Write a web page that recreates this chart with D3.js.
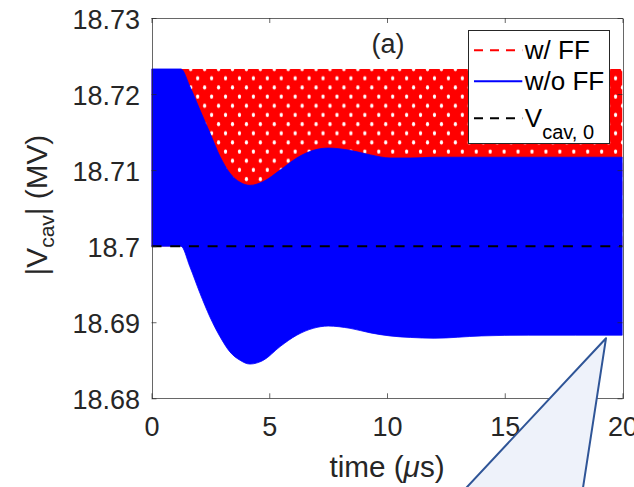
<!DOCTYPE html>
<html>
<head>
<meta charset="utf-8">
<script src="https://cdn.jsdelivr.net/npm/d3@7"></script>
<style>
  body { margin: 0; background: #fff; }
  svg { display: block; font-family: "Liberation Sans", Arial, Helvetica, sans-serif; }
</style>
</head>
<body>
<svg id="chart" width="634" height="487"></svg>
<script>
// envelope of the fast-oscillating |Vcav| traces (MV) vs time (us)
const timeUs = [0, 1.25, 1.63, 2.06, 2.48, 2.91, 3.33, 3.76, 4.18, 4.75, 5.46, 6.17, 6.87, 7.5, 8.43, 9.3, 10.13, 11, 12, 14, 16, 18, 20];
const noFFUpper = [18.7233, 18.7233, 18.721, 18.7179, 18.7149, 18.7118, 18.7096, 18.7084, 18.708, 18.7085, 18.71, 18.7116, 18.7126, 18.7129, 18.7126, 18.712, 18.7116, 18.7116, 18.7117, 18.7117, 18.7117, 18.7117, 18.7117];
const noFFLower = [18.7, 18.7, 18.6973, 18.6938, 18.6907, 18.6881, 18.6861, 18.685, 18.6845, 18.685, 18.6868, 18.6883, 18.6892, 18.6895, 18.6892, 18.6886, 18.6882, 18.688, 18.6879, 18.6882, 18.6883, 18.6883, 18.6883];
const ffTime = [0, 20];
const ffUpper = [18.7233, 18.7233];
const ffLower = [18.7, 18.7];
const vCav0 = 18.7;

const xTicks = [0, 5, 10, 15, 20];
const yTicks = [18.68, 18.69, 18.7, 18.71, 18.72, 18.73];
const yTickLabels = ["18.68", "18.69", "18.7", "18.71", "18.72", "18.73"];
const zoomPoint = [19.3, 18.6879];

const svg = d3.select("#chart"),
  width = +svg.attr("width"),
  height = +svg.attr("height"),
  margin = { top: 18, right: 11.5, bottom: 88.7, left: 151.5 };

const chartWidth = width - margin.left - margin.right;
const chartHeight = height - margin.top - margin.bottom;

const x = d3.scaleLinear().domain([0, 20]).range([0, chartWidth]);
const y = d3.scaleLinear().domain([18.68, 18.73]).range([chartHeight, 0]);

const g = svg.append("g").attr("transform", `translate(${margin.left},${margin.top})`);

// dashed red trace looks like a red fill with white holes
const defs = svg.append("defs");
const pw = 13.93, ph = 18.33;
const pat = defs.append("pattern")
  .attr("id", "ffDash")
  .attr("patternUnits", "userSpaceOnUse")
  .attr("x", 0.9).attr("y", 0.7)
  .attr("width", pw).attr("height", ph);
pat.append("rect").attr("width", pw).attr("height", ph).attr("fill", "#ff0000");
[[3.48, 4.58], [3.48 + pw / 2, 4.58 + ph / 2]].forEach(([cx, cy]) => {
  pat.append("ellipse").attr("cx", cx).attr("cy", cy).attr("rx", 1.6).attr("ry", 2.2).attr("fill", "#fff");
});

defs.append("clipPath").attr("id", "plotClip")
  .append("rect").attr("width", chartWidth).attr("height", chartHeight);

const plot = g.append("g").attr("clip-path", "url(#plotClip)");

// w/ FF
plot.append("path")
  .datum(d3.range(ffTime.length))
  .attr("fill", "url(#ffDash)")
  .attr("d", d3.area()
    .x((i) => x(ffTime[i]))
    .y0((i) => y(ffLower[i]))
    .y1((i) => y(ffUpper[i])));

// w/o FF
plot.append("path")
  .datum(d3.range(timeUs.length))
  .attr("fill", "#0000ff")
  .attr("stroke", "#0000ff")
  .attr("stroke-width", 0.8)
  .attr("d", d3.area()
    .x((i) => x(timeUs[i]))
    .y0((i) => y(noFFLower[i]))
    .y1((i) => y(noFFUpper[i]))
    .curve(d3.curveMonotoneX));

// Vcav,0
plot.append("line")
  .attr("x1", x(0)).attr("x2", x(20))
  .attr("y1", y(vCav0)).attr("y2", y(vCav0))
  .attr("stroke", "#000")
  .attr("stroke-width", 2)
  .attr("stroke-dasharray", "10,8.7");

// Axes (box with inward ticks)
const axisColor = "#262626";
const styleAxis = (sel) => {
  sel.select(".domain").attr("stroke", axisColor).attr("stroke-width", 1).attr("opacity", 0.7);
  sel.selectAll(".tick line").attr("stroke", axisColor).attr("opacity", 0.7);
  sel.selectAll("text").attr("fill", axisColor).style("font-size", "27px");
};

g.append("g")
  .attr("transform", `translate(0,${chartHeight})`)
  .call(d3.axisBottom(x).tickValues(xTicks).tickSizeInner(-5).tickSizeOuter(0).tickPadding(18.5))
  .call(styleAxis);

g.append("g")
  .call(d3.axisTop(x).tickValues(xTicks).tickSizeInner(-5).tickSizeOuter(0).tickFormat(""))
  .call(styleAxis);

g.append("g")
  .call(d3.axisLeft(y).tickValues(yTicks).tickSizeInner(-5).tickSizeOuter(0).tickPadding(11.5)
    .tickFormat((d, i) => yTickLabels[i]))
  .call(styleAxis)
  .selectAll("text").attr("dy", "0.38em");

g.append("g")
  .attr("transform", `translate(${chartWidth},0)`)
  .call(d3.axisRight(y).tickValues(yTicks).tickSizeInner(-5).tickSizeOuter(0).tickFormat(""))
  .call(styleAxis);

svg.selectAll(".domain").attr("shape-rendering", "crispEdges");

// Title
svg.append("text")
  .attr("x", 388).attr("y", 52.5)
  .attr("text-anchor", "middle")
  .attr("fill", axisColor)
  .style("font-size", "27px")
  .text("(a)");

// X label
const xl = svg.append("text")
  .attr("x", margin.left + chartWidth / 2).attr("y", 477)
  .attr("text-anchor", "middle")
  .attr("fill", axisColor)
  .style("font-size", "29.7px");
xl.append("tspan").text("time (");
xl.append("tspan").style("font-style", "italic").text("\u03bc");
xl.append("tspan").text("s)");

// Y label
const yl = svg.append("text")
  .attr("transform", `translate(47,${margin.top + chartHeight / 2 - 3}) rotate(-90)`)
  .attr("text-anchor", "middle")
  .attr("fill", axisColor)
  .style("font-size", "29.7px");
yl.append("tspan").text("|V");
yl.append("tspan").attr("dy", 7).style("font-size", "21px").text("cav");
yl.append("tspan").attr("dy", -7).text("| (MV)");

// Legend
const legend = svg.append("g").attr("transform", "translate(468.3,30.3)");
legend.append("rect")
  .attr("width", 141.4).attr("height", 113)
  .attr("fill", "#fff")
  .attr("stroke", axisColor)
  .attr("stroke-width", 1)
  .attr("shape-rendering", "crispEdges");

const legendItems = [
  { color: "#ff0000", dash: "9,7", y: 20 },
  { color: "#0000ff", dash: null, y: 51 },
  { color: "#000000", dash: "9,7", y: 88 }
];
legendItems.forEach((d) => {
  legend.append("line")
    .attr("x1", 5.7).attr("x2", 54)
    .attr("y1", d.y).attr("y2", d.y)
    .attr("stroke", d.color)
    .attr("stroke-width", 2)
    .attr("stroke-dasharray", d.dash);
});
legend.append("text").attr("x", 56.5).attr("y", 20).attr("dy", "0.35em")
  .style("font-size", "26px").attr("fill", "#000").text("w/ FF");
legend.append("text").attr("x", 56.5).attr("y", 51).attr("dy", "0.35em")
  .style("font-size", "26px").attr("fill", "#000").text("w/o FF");
const vt = legend.append("text").attr("x", 56.5).attr("y", 88).attr("dy", "0.35em")
  .style("font-size", "26px").attr("fill", "#000");
vt.append("tspan").text("V");
vt.append("tspan").attr("dy", 12).style("font-size", "20px").text("cav, 0");

// zoom callout
const apex = [margin.left + x(zoomPoint[0]), margin.top + y(zoomPoint[1])];
svg.append("polygon")
  .attr("points", [apex, [apex[0] - 170, apex[1] + 182], [apex[0] - 28, apex[1] + 182]].map((p) => p.join(",")).join(" "))
  .attr("fill", "#eef2fa")
  .attr("stroke", "#2f5597")
  .attr("stroke-width", 2)
  .attr("stroke-linejoin", "round");
</script>
</body>
</html>
